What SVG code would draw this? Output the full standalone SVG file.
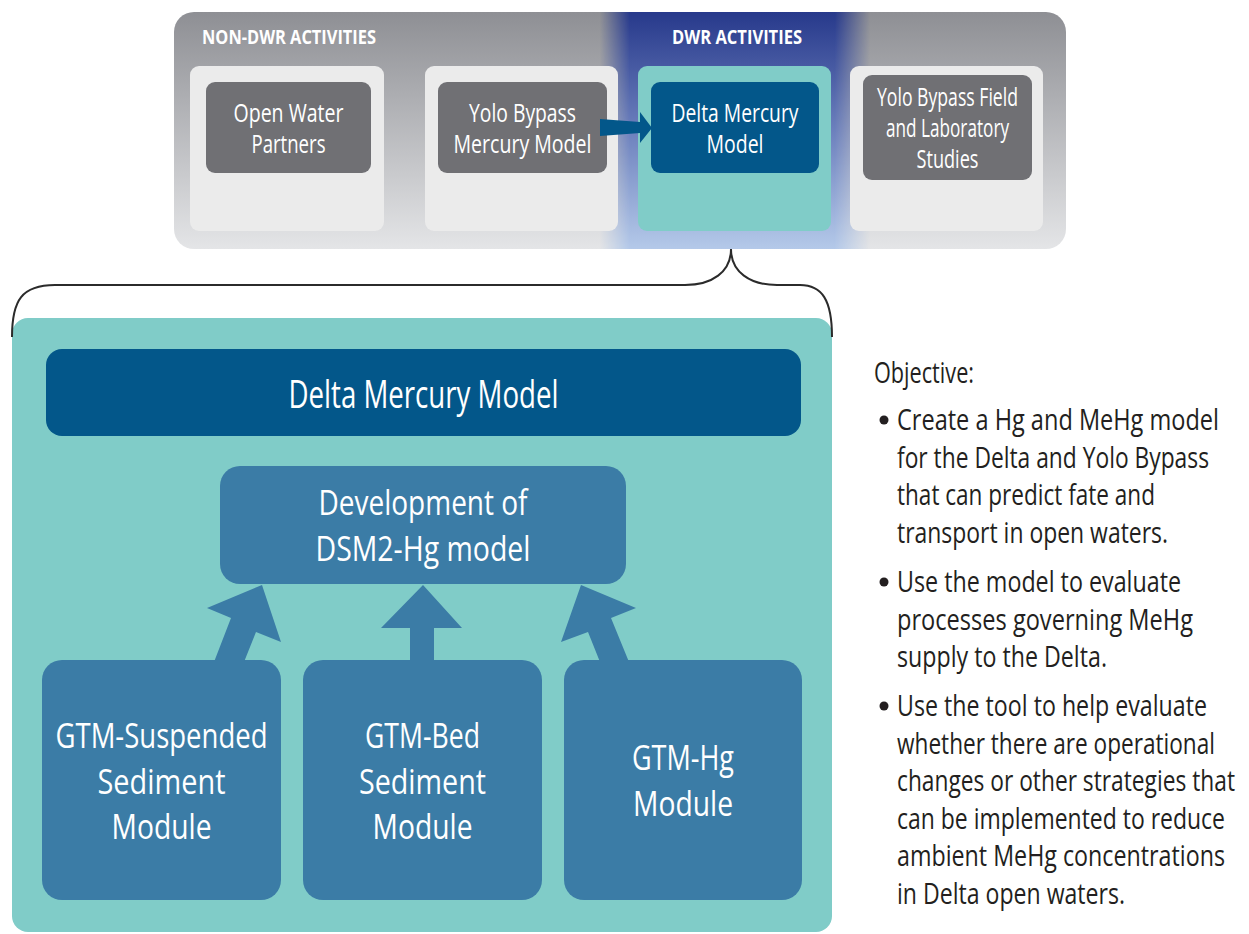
<svg xmlns="http://www.w3.org/2000/svg" width="1249" height="934" viewBox="0 0 1249 934">
<defs>
<linearGradient id="panelGrad" x1="0" y1="0" x2="0" y2="1">
<stop offset="0" stop-color="#8e8f94"/>
<stop offset="1" stop-color="#e4e5e7"/>
</linearGradient>
<linearGradient id="bandGrad" x1="0" y1="0" x2="0" y2="1">
<stop offset="0" stop-color="#27398b"/>
<stop offset="0.5" stop-color="#6c80bd"/>
<stop offset="1" stop-color="#b4c9e9"/>
</linearGradient>
<linearGradient id="bandFade" x1="600" y1="0" x2="870" y2="0" gradientUnits="userSpaceOnUse">
<stop offset="0" stop-color="#fff" stop-opacity="0"/>
<stop offset="0.11" stop-color="#fff" stop-opacity="1"/>
<stop offset="0.87" stop-color="#fff" stop-opacity="1"/>
<stop offset="1" stop-color="#fff" stop-opacity="0"/>
</linearGradient>
<mask id="bandMask">
<rect x="600" y="12" width="270" height="237" fill="url(#bandFade)"/>
</mask>
<style>
.lt{font-family:"Open Sans","Liberation Sans",sans-serif;fill:#ffffff;text-anchor:middle}
.hd{font-family:"Open Sans","Liberation Sans",sans-serif;font-weight:bold;fill:#ffffff;font-size:20px}
.obj{font-family:"Open Sans","Liberation Sans",sans-serif;fill:#231f20;font-size:29px}
.light{fill:#ebebeb}
.gray{fill:#707074}
.dark{fill:#03578a}
.mid{fill:#3b7ca6}
.teal{fill:#80ccc8}
.arrow{fill:#3b7ca6}
</style>
</defs>
<rect width="1249" height="934" fill="#ffffff"/>

<g id="top-panel">
<rect x="174" y="12" width="892" height="237" rx="20" fill="url(#panelGrad)"/>
<rect x="600" y="12" width="270" height="237" fill="url(#bandGrad)" mask="url(#bandMask)"/>
<text class="hd" x="202" y="44" textLength="174" lengthAdjust="spacingAndGlyphs">NON-DWR ACTIVITIES</text>
<text class="hd" x="672" y="44" textLength="130" lengthAdjust="spacingAndGlyphs">DWR ACTIVITIES</text>
</g>

<g id="node-open-water">
<rect class="light" x="190" y="66" width="194" height="165" rx="9"/>
<rect class="gray" x="206" y="82" width="165" height="91" rx="9"/>
<text class="lt" font-size="25" x="288.5" y="122" textLength="110" lengthAdjust="spacingAndGlyphs">Open Water</text>
<text class="lt" font-size="25" x="288.5" y="153" textLength="74" lengthAdjust="spacingAndGlyphs">Partners</text>
</g>

<g id="node-yolo-model">
<rect class="light" x="425" y="66" width="193" height="165" rx="9"/>
<rect class="gray" x="438" y="82" width="169" height="91" rx="9"/>
<text class="lt" font-size="25" x="522.5" y="122" textLength="107" lengthAdjust="spacingAndGlyphs">Yolo Bypass</text>
<text class="lt" font-size="25" x="522.5" y="153" textLength="138" lengthAdjust="spacingAndGlyphs">Mercury Model</text>
</g>

<g id="node-delta-top">
<rect class="teal" x="638" y="66" width="193" height="165" rx="9"/>
<rect class="dark" x="651" y="82" width="168" height="91" rx="9"/>
<text class="lt" font-size="25" x="735" y="122" textLength="127" lengthAdjust="spacingAndGlyphs">Delta Mercury</text>
<text class="lt" font-size="25" x="735" y="153" textLength="57" lengthAdjust="spacingAndGlyphs">Model</text>
</g>

<g id="node-yolo-field">
<rect class="light" x="850" y="66" width="193" height="165" rx="9"/>
<rect class="gray" x="863" y="75" width="169" height="105" rx="9"/>
<text class="lt" font-size="25" x="947.5" y="106" textLength="141" lengthAdjust="spacingAndGlyphs">Yolo Bypass Field</text>
<text class="lt" font-size="25" x="947.5" y="137" textLength="123" lengthAdjust="spacingAndGlyphs">and Laboratory</text>
<text class="lt" font-size="25" x="947.5" y="168" textLength="62" lengthAdjust="spacingAndGlyphs">Studies</text>
</g>

<g id="main-panel">
<rect class="teal" x="12" y="318" width="820" height="614" rx="16"/>
</g>

<g id="node-delta-main">
<rect class="dark" x="46" y="349" width="755" height="87" rx="16"/>
<text class="lt" font-size="38" x="423.5" y="408" textLength="270" lengthAdjust="spacingAndGlyphs">Delta Mercury Model</text>
</g>

<g id="node-dsm2">
<rect class="mid" x="220" y="466" width="406" height="118" rx="20"/>
<text class="lt" font-size="35" x="423" y="515" textLength="209" lengthAdjust="spacingAndGlyphs">Development of</text>
<text class="lt" font-size="35" x="423" y="561" textLength="215" lengthAdjust="spacingAndGlyphs">DSM2-Hg model</text>
</g>

<g id="node-gtm-suspended">
<rect class="mid" x="42" y="660" width="239" height="240" rx="20"/>
<text class="lt" font-size="35" x="161.5" y="748" textLength="212" lengthAdjust="spacingAndGlyphs">GTM-Suspended</text>
<text class="lt" font-size="35" x="161.5" y="794" textLength="128" lengthAdjust="spacingAndGlyphs">Sediment</text>
<text class="lt" font-size="35" x="161.5" y="839" textLength="100" lengthAdjust="spacingAndGlyphs">Module</text>
</g>

<g id="node-gtm-bed">
<rect class="mid" x="303" y="660" width="239" height="240" rx="20"/>
<text class="lt" font-size="35" x="422.5" y="748" textLength="115" lengthAdjust="spacingAndGlyphs">GTM-Bed</text>
<text class="lt" font-size="35" x="422.5" y="794" textLength="127" lengthAdjust="spacingAndGlyphs">Sediment</text>
<text class="lt" font-size="35" x="422.5" y="839" textLength="100" lengthAdjust="spacingAndGlyphs">Module</text>
</g>

<g id="node-gtm-hg">
<rect class="mid" x="564" y="660" width="238" height="240" rx="20"/>
<text class="lt" font-size="35" x="683" y="770" textLength="102" lengthAdjust="spacingAndGlyphs">GTM-Hg</text>
<text class="lt" font-size="35" x="683" y="816" textLength="100" lengthAdjust="spacingAndGlyphs">Module</text>
</g>

<g id="connectors">
<polygon fill="#03578a" points="600,119 640,122 640,112 652,128 640,143 640,133 600,136"/>
<polygon class="arrow" points="214,662 231,618 207,608 262,585 281,642 256,632 244,662"/>
<polygon class="arrow" points="410,662 410,628 381,628 423,585 462,628 434,628 434,662"/>
<polygon class="arrow" points="629,662 611,618 636,608 581,585 561,642 588,632 600,662"/>
<path d="M12,337 C12,300 22,285 55,285 L685,285 C712,285 731,272 731,249 C731,272 750,285 777,285 L800,285 C822,285 832,300 832,337" fill="none" stroke="#2b2b2b" stroke-width="2"/>
</g>

<g id="objective">
<text class="obj" x="874" y="383" textLength="100" lengthAdjust="spacingAndGlyphs">Objective:</text>
<circle cx="884" cy="420" r="4.5" fill="#231f20"/>
<text class="obj" x="897" y="430" textLength="322" lengthAdjust="spacingAndGlyphs">Create a Hg and MeHg model</text>
<text class="obj" x="897" y="468" textLength="312" lengthAdjust="spacingAndGlyphs">for the Delta and Yolo Bypass</text>
<text class="obj" x="897" y="505" textLength="258" lengthAdjust="spacingAndGlyphs">that can predict fate and</text>
<text class="obj" x="897" y="543" textLength="271" lengthAdjust="spacingAndGlyphs">transport in open waters.</text>
<circle cx="884" cy="582" r="4.5" fill="#231f20"/>
<text class="obj" x="897" y="592" textLength="284" lengthAdjust="spacingAndGlyphs">Use the model to evaluate</text>
<text class="obj" x="897" y="630" textLength="296" lengthAdjust="spacingAndGlyphs">processes governing MeHg</text>
<text class="obj" x="897" y="667" textLength="210" lengthAdjust="spacingAndGlyphs">supply to the Delta.</text>
<circle cx="884" cy="706" r="4.5" fill="#231f20"/>
<text class="obj" x="897" y="716" textLength="310" lengthAdjust="spacingAndGlyphs">Use the tool to help evaluate</text>
<text class="obj" x="897" y="754" textLength="318" lengthAdjust="spacingAndGlyphs">whether there are operational</text>
<text class="obj" x="897" y="791" textLength="338" lengthAdjust="spacingAndGlyphs">changes or other strategies that</text>
<text class="obj" x="897" y="829" textLength="328" lengthAdjust="spacingAndGlyphs">can be implemented to reduce</text>
<text class="obj" x="897" y="866" textLength="328" lengthAdjust="spacingAndGlyphs">ambient MeHg concentrations</text>
<text class="obj" x="897" y="904" textLength="228" lengthAdjust="spacingAndGlyphs">in Delta open waters.</text>
</g>
</svg>
